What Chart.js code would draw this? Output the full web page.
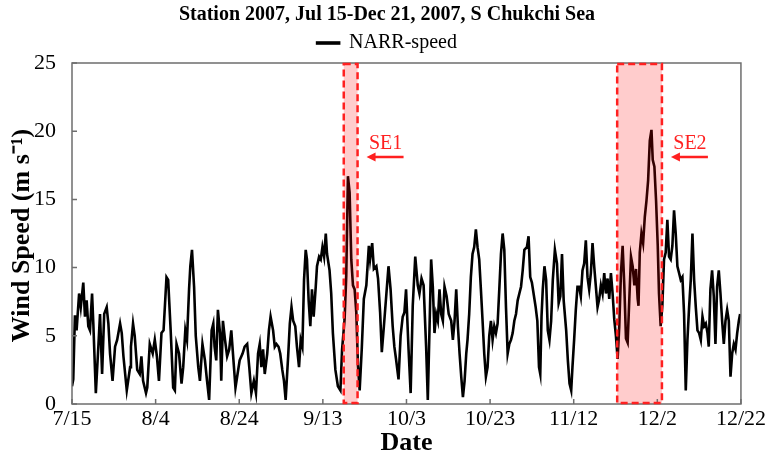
<!DOCTYPE html>
<html>
<head>
<meta charset="utf-8">
<title>Station 2007 wind speed</title>
<script src="https://cdn.jsdelivr.net/npm/chart.js@4.4.1/dist/chart.umd.min.js"></script>
<style>
    html, body { margin: 0; padding: 0; background: #fff; }
    #wrap { width: 768px; height: 459px; }
</style>
</head>
<body>
<div id="wrap"><canvas id="speedChart" width="768" height="459"></canvas></div>
<script>
// Days since Jul 15 2007 and NARR wind speed (m/s)
const days = [
    0, 0.3, 0.7, 1.1, 1.7, 2.1, 2.7, 3.1, 3.5, 3.9, 4.3, 4.8, 5.1, 5.7, 6.3, 6.7, 7.2, 7.7, 8.3, 8.7,
    9.1, 9.7, 10.3, 10.8, 11.5, 11.9, 12.3, 13.1, 13.9, 14.1, 14.6, 15.0, 15.6, 16.2, 16.6, 17.0, 17.7, 18.0,
    18.6, 19.3, 19.8, 20.3, 20.8, 21.4, 21.9, 22.6, 23.0, 23.6, 24.2, 24.6, 25.0, 25.6, 26.2, 26.6, 27.1, 27.5,
    28.0, 28.3, 28.7, 29.2, 29.6, 30.2, 30.6, 31.2, 31.8, 32.3, 32.8, 33.4, 33.8, 34.1, 34.5, 34.9, 35.4, 35.7,
    36.1, 36.6, 37.1, 37.6, 38.1, 38.5, 39.1, 39.6,
    40.1, 40.8, 41.3, 41.9, 42.4, 42.9, 43.5, 44.0, 44.5, 44.9, 45.3, 45.7, 46.1, 46.7, 47.1, 47.5, 48.1, 48.5,
    48.9, 49.4, 49.8, 50.3, 50.7, 51.1, 51.7, 52.1, 52.5, 52.9, 53.4, 53.8, 54.3, 54.7, 55.1, 55.5, 55.9, 56.2,
    56.6, 57.0, 57.4, 57.8, 58.3, 58.6, 59.1, 59.5, 59.9, 60.3, 60.7, 61.0,
    61.6, 62.0, 62.4, 63.0, 63.6, 64.2, 64.6, 65.2, 65.6, 66.0, 66.4, 66.8, 67.2, 67.6, 68.0, 68.4, 68.8, 69.3,
    69.8, 70.4, 71.0, 71.3, 71.8, 72.2, 72.8, 73.2, 73.7, 74.1, 74.6, 75.2, 75.7, 76.2, 76.7, 77.1, 77.5, 78.1,
    78.6, 79.1, 79.5, 79.9, 80.5, 81.0, 81.5, 82.1, 82.7, 83.1, 83.6, 84.1,
    84.7, 85.1, 85.5, 85.9, 86.3, 86.7, 87.1, 87.5, 87.9, 88.3, 88.7, 89.1, 89.6, 90.1, 90.7, 91.1, 91.5, 91.9,
    92.3, 92.7, 93.1, 93.5, 93.9, 94.3, 94.6, 95.0, 95.4, 95.8, 96.2, 96.6, 97.0, 97.4, 97.8, 98.2, 98.6, 99.0,
    99.4, 99.8, 100.2, 100.6, 101.0, 101.4, 101.8, 102.2, 102.6, 103.0, 103.4, 103.8, 104.2,
    104.6, 105.0, 105.4, 105.8, 106.2, 106.6, 107.0, 107.4, 107.8, 108.2, 108.8, 109.2, 109.6, 110.0, 110.4,
    110.9, 111.3, 111.7, 112.0, 112.3, 112.6, 113.0, 113.4, 113.8, 114.2, 114.6, 115.0, 115.5, 116.0, 116.4,
    116.8, 117.2, 117.6, 118.2, 118.6, 119.0, 119.4, 119.7, 120.1, 120.5, 120.9, 121.3, 121.7, 122.1, 122.5,
    122.9, 123.3, 123.7, 124.1, 124.5, 124.9, 125.3, 125.7,
    126.1, 126.5, 126.9, 127.3, 127.7, 128.1, 128.5, 128.9, 129.3, 129.7, 130.1, 130.5, 130.9, 131.3, 131.7,
    132.1, 132.5, 132.9, 133.3, 133.7, 134.1, 134.5, 134.9, 135.3, 135.5, 135.8, 136.2, 136.6, 137.0, 137.4,
    137.8, 138.2, 138.6, 138.9, 139.3, 139.7, 140.1, 140.4, 140.8, 141.2, 141.6, 142.0, 142.4, 142.8, 143.2,
    143.6, 144.0, 144.4, 144.8, 145.2,
    145.6, 146.0, 146.4, 146.8, 147.2, 147.6, 148.0, 148.4, 148.8, 149.2, 149.6, 150.0, 150.4, 150.8, 151.2,
    151.6, 152.0, 152.3, 152.7, 153.1, 153.5, 153.9, 154.3, 154.7, 155.1, 155.5, 155.9, 156.3, 156.7, 157.1,
    157.5, 157.9, 158.3, 158.7, 159.1, 159.5, 159.8
];
const speed = [
    1.3, 1.8, 6.5, 5.4, 8.1, 7.1, 8.9, 6.4, 7.6, 5.7, 5.4, 8.1, 5.9, 0.8, 4.2, 6.6, 2.2, 6.6, 7.1, 5.9,
    3.7, 1.7, 4.2, 4.7, 5.9, 5.2, 3.5, 1.0, 2.7, 4.2, 5.9, 5.0, 2.5, 2.2, 3.5, 1.7, 0.8, 1.2,
    4.4, 3.7, 4.7, 3.5, 1.7, 5.2, 5.4, 9.3, 9.1, 5.4, 1.2, 1.0, 4.4, 3.7, 1.5, 2.7, 5.4, 4.7,
    8.4, 10.1, 11.3, 8.6, 5.0, 2.7, 1.7, 4.4, 3.2, 1.7, 0.3, 5.4, 5.9, 4.2, 3.2, 6.9, 5.2, 1.7,
    6.1, 4.7, 3.5, 4.0, 5.4, 3.7, 1.2, 2.2,
    3.2, 3.7, 4.2, 4.4, 2.7, 0.8, 1.7, 0.8, 3.7, 4.4, 2.7, 4.0, 2.2, 3.7, 5.4, 6.4, 5.4, 4.2,
    4.4, 4.2, 3.7, 2.5, 1.7, 0.3, 3.5, 5.9, 7.1, 6.1, 5.7, 4.2, 2.7, 4.7, 4.2, 9.1, 11.3, 10.6,
    7.6, 5.7, 8.4, 6.4, 8.6, 10.1, 10.8, 10.6, 11.5, 10.8, 12.5, 11.0,
    9.8, 8.1, 5.2, 2.5, 1.3, 1.0, 4.0, 6.2, 9.4, 16.7, 15.5, 10.6, 8.7, 8.4, 6.7, 2.8, 1.0, 4.0,
    7.7, 8.7, 11.6, 10.6, 11.8, 9.9, 10.1, 9.2, 6.7, 3.8, 5.7, 8.1, 10.1, 8.4, 5.7, 4.2, 3.3, 1.8,
    5.0, 6.4, 6.7, 8.4, 4.0, 0.8, 7.2, 10.8, 8.7, 8.1, 9.2, 8.7,
    4.2, 0.3, 5.4, 10.6, 8.6, 5.2, 6.6, 6.1, 8.4, 6.6, 6.1, 8.6, 7.9, 6.6, 6.1, 4.7, 6.1, 8.4,
    5.7, 3.7, 2.0, 0.5, 1.7, 3.7, 4.7, 6.6, 9.3, 11.0, 11.5, 12.8, 11.5, 10.6, 8.4, 6.1, 3.7, 2.0,
    2.7, 5.0, 6.1, 4.7, 5.7, 5.2, 5.9, 8.4, 11.0, 12.5, 11.3, 7.1, 3.7,
    4.4, 4.7, 5.2, 6.1, 6.6, 7.6, 8.1, 8.6, 9.8, 11.3, 11.5, 12.3, 9.3, 8.9, 8.1,
    7.1, 6.1, 2.7, 2.2, 6.4, 8.4, 10.1, 9.1, 5.4, 4.7, 6.1, 9.1, 11.3, 10.3, 7.4,
    7.9, 11.0, 7.6, 5.4, 3.2, 1.5, 1.0, 2.7, 4.7, 6.9, 8.6, 8.6, 7.9, 9.8, 10.3,
    12.0, 9.3, 8.4, 9.6, 11.8, 10.1, 8.6, 7.1,
    7.7, 8.7, 8.1, 9.6, 8.1, 9.2, 7.7, 9.6, 8.1, 6.2, 5.0, 3.3, 5.7, 9.6, 11.6,
    8.7, 4.8, 4.5, 7.7, 10.8, 10.1, 8.7, 9.9, 7.7, 7.2, 11.1, 12.5, 11.8, 13.7, 14.9,
    16.4, 19.3, 20.1, 17.9, 17.4, 14.9, 11.6, 8.1, 5.7, 7.2, 10.6, 11.1, 13.5, 10.8, 10.6,
    11.6, 14.2, 12.5, 10.1, 9.6,
    9.1, 9.3, 6.6, 1.0, 4.7, 7.1, 9.1, 12.5, 9.1, 7.1, 5.4, 5.2, 4.7, 6.4, 5.7,
    5.9, 5.2, 4.2, 8.4, 9.8, 7.9, 4.4, 8.6, 9.8, 8.1, 6.1, 4.4, 6.1, 6.9, 6.1,
    2.0, 3.7, 4.4, 4.0, 5.2, 6.1, 6.6
];

// x axis ticks (days since 7/15) and their labels
const tickDays = [0, 20, 40, 60, 80, 100, 120, 140, 160];
const tickLabels = ['7/15', '8/4', '8/24', '9/13', '10/3', '10/23', '11/12', '12/2', '12/22'];
const yTicks = [0, 5, 10, 15, 20, 25];

// storm events (shaded spans, in days since 7/15)
const eventNames = ['SE1', 'SE2'];
const eventStart = [65.0, 130.4];
const eventEnd = [68.3, 141.1];

const serif = '"Liberation Serif", "Times New Roman", serif';

const overlayPlugin = {
    id: 'overlay',
    afterDatasetsDraw(chart) {
        const { ctx, chartArea: area, scales: { x, y } } = chart;
        ctx.save();

        // Shaded event boxes, drawn over the line so it looks dark red inside
        eventNames.forEach((name, i) => {
            const x0 = x.getPixelForValue(eventStart[i]);
            const x1 = x.getPixelForValue(eventEnd[i]);
            ctx.fillStyle = 'rgba(255, 0, 0, 0.2)';
            ctx.fillRect(x0, area.top, x1 - x0, area.bottom - area.top);
        });

        // Axes box
        ctx.strokeStyle = '#6e6e6e';
        ctx.lineWidth = 1.5;
        ctx.strokeRect(area.left, area.top, area.right - area.left, area.bottom - area.top);

        // Inward tick marks on left and bottom
        ctx.beginPath();
        tickDays.forEach(d => {
            const px = x.getPixelForValue(d);
            ctx.moveTo(px, area.bottom);
            ctx.lineTo(px, area.bottom - 5);
        });
        yTicks.forEach(v => {
            const py = y.getPixelForValue(v);
            ctx.moveTo(area.left, py);
            ctx.lineTo(area.left + 5, py);
        });
        ctx.stroke();

        // Dashed borders, labels and arrows
        eventNames.forEach((name, i) => {
            const x0 = x.getPixelForValue(eventStart[i]);
            const x1 = x.getPixelForValue(eventEnd[i]);
            ctx.setLineDash([7, 4]);
            ctx.strokeStyle = '#ff2020';
            ctx.lineWidth = 2.5;
            ctx.strokeRect(x0, area.top + 1, x1 - x0, area.bottom - area.top - 2);
            ctx.setLineDash([]);

            ctx.fillStyle = '#ff2020';
            ctx.font = '20px ' + serif;
            ctx.textAlign = 'center';
            ctx.textBaseline = 'middle';
            ctx.fillText(name, x1 + 28, y.getPixelForValue(19.1));

            const ay = y.getPixelForValue(18.1);
            const tip = x1 + 9;
            ctx.lineWidth = 2.5;
            ctx.beginPath();
            ctx.moveTo(x1 + 46, ay);
            ctx.lineTo(tip + 4, ay);
            ctx.stroke();
            ctx.beginPath();
            ctx.moveTo(tip, ay);
            ctx.lineTo(tip + 9, ay - 4.5);
            ctx.lineTo(tip + 9, ay + 4.5);
            ctx.closePath();
            ctx.fill();
        });

        // Y axis title (drawn by hand so the chart title stays centred on the plot)
        ctx.fillStyle = '#000';
        ctx.font = 'bold 26px ' + serif;
        ctx.textAlign = 'center';
        ctx.textBaseline = 'middle';
        ctx.translate(22, (area.top + area.bottom) / 2 + 2);
        ctx.rotate(-Math.PI / 2);
        ctx.fillText('Wind Speed (m s\u207B\u00B9)', 0, 0);
        ctx.restore();
    }
};

new Chart(document.getElementById('speedChart'), {
    type: 'line',
    data: {
        datasets: [{
            label: 'NARR-speed',
            data: days.map((d, i) => ({ x: d, y: speed[i] })),
            borderColor: '#000',
            backgroundColor: '#000',
            borderWidth: 2.6,
            pointRadius: 0,
            tension: 0
        }]
    },
    options: {
        responsive: false,
        animation: false,
        layout: { padding: { left: 32, right: 26, top: 0, bottom: 0 } },
        plugins: {
            title: {
                display: true,
                text: 'Station 2007, Jul 15-Dec 21, 2007, S Chukchi Sea',
                color: '#000',
                font: { family: serif, size: 20, weight: 'bold' },
                padding: { top: 3, bottom: 3 }
            },
            legend: {
                display: true,
                labels: {
                    color: '#000',
                    font: { family: serif, size: 20 },
                    boxWidth: 22,
                    boxHeight: 1,
                    padding: 3
                }
            },
            tooltip: { enabled: false }
        },
        scales: {
            x: {
                type: 'linear',
                min: 0,
                max: 160,
                grid: { display: false, drawTicks: false },
                border: { display: false },
                afterBuildTicks: scale => { scale.ticks = tickDays.map(v => ({ value: v })); },
                afterFit: scale => { scale.height = 55; },
                ticks: {
                    color: '#000',
                    font: { family: serif, size: 22 },
                    padding: 2,
                    maxRotation: 0,
                    callback: value => tickLabels[tickDays.indexOf(value)]
                },
                title: {
                    display: true,
                    text: 'Date',
                    color: '#000',
                    font: { family: serif, size: 26, weight: 'bold' },
                    padding: { top: 0, bottom: 0 }
                }
            },
            y: {
                min: 0,
                max: 25,
                grid: { display: false, drawTicks: false },
                border: { display: false },
                afterBuildTicks: scale => { scale.ticks = yTicks.map(v => ({ value: v })); },
                afterFit: scale => { scale.width = 40; },
                ticks: {
                    color: '#000',
                    font: { family: serif, size: 22 },
                    padding: 16
                }
            }
        }
    },
    plugins: [overlayPlugin]
});
</script>
</body>
</html>
